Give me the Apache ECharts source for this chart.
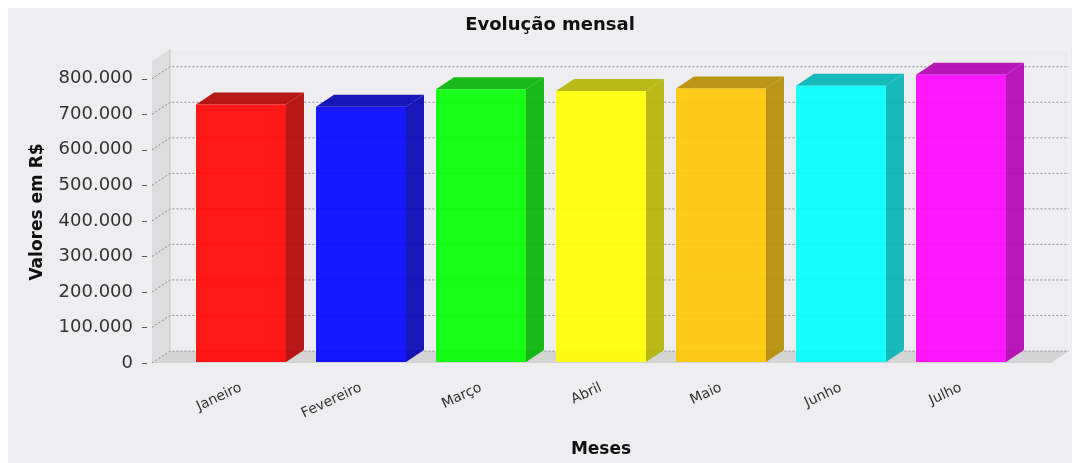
<!DOCTYPE html>
<html><head><meta charset="utf-8">
<script src="https://cdn.jsdelivr.net/npm/echarts@6/dist/echarts.min.js"></script>
<style>html,body{margin:0;padding:0;background:#ffffff}#c{width:1072px;height:463px}</style>
</head><body><div id="c"></div>
<script>
// ---- data ----
const categories = ['Janeiro', 'Fevereiro', 'Março', 'Abril', 'Maio', 'Junho', 'Julho'];
const values = [727000, 721000, 770000, 765000, 772000, 780000, 811000];
const barColors = ['#ff0000', '#0000ff', '#00ff00', '#ffff00', '#ffc800', '#00ffff', '#ff00ff'];
const yTicks = [0, 100000, 200000, 300000, 400000, 500000, 600000, 700000, 800000];
const yMax = 850000;
const titleText = 'Evolução mensal';
const xName = 'Meses';
const yName = 'Valores em R$';

// ---- layout ----
const FONT = 'DejaVu Sans';
const PL = 152, PT = 61, PR = 1051, PB = 363;   // front data area
const DX = 18, DY = 12;                          // 3D depth offset
const BAR_L = 181, BAR_R = 1021;                 // category span

function darker(hex) {
  const n = parseInt(hex.slice(1), 16);
  const r = Math.floor(((n >> 16) & 255) * 0.7), g = Math.floor(((n >> 8) & 255) * 0.7), b = Math.floor((n & 255) * 0.7);
  return 'rgb(' + r + ',' + g + ',' + b + ')';
}
function fmt(v) {
  return String(Math.round(v)).replace(/\B(?=(\d{3})+(?!\d))/g, '.');
}

const chart = echarts.init(document.getElementById('c'), null, { renderer: 'canvas' });

const option = {
  backgroundColor: 'transparent',
  animation: false,
  graphic: [{
    type: 'rect', silent: true, z: -10,
    shape: { x: 8, y: 8, width: 1072 - 8, height: 463 - 8 },
    style: { fill: '#eeeef0' }
  }],
  title: {
    text: titleText, left: 545, top: 11, textAlign: 'center',
    textStyle: { fontFamily: FONT, fontSize: 18, fontWeight: 'bold', color: '#111' }
  },
  grid: [
    { left: PL, top: PT, width: PR - PL, height: PB - PT },
    { left: BAR_L, top: PT, width: BAR_R - BAR_L, height: PB - PT }
  ],
  xAxis: [
    { gridIndex: 0, type: 'value', min: 0, max: 1, show: false },
    {
      gridIndex: 1, type: 'category', data: categories,
      axisLine: { show: false }, axisTick: { show: false }, splitLine: { show: false },
      axisLabel: { rotate: 25, margin: 25, fontFamily: FONT, fontSize: 14, color: '#333' },
      name: xName, nameLocation: 'middle', nameGap: 79,
      nameTextStyle: { fontFamily: FONT, fontSize: 17, fontWeight: 'bold', color: '#111' }
    }
  ],
  yAxis: [
    {
      gridIndex: 0, type: 'value', min: 0, max: yMax, offset: 6,
      axisLine: { show: false },
      axisTick: { show: false },
      splitLine: { show: false },
      axisLabel: {
        customValues: yTicks, margin: 13, fontFamily: FONT, fontSize: 18, color: '#333',
        formatter: fmt
      },
      name: yName, nameLocation: 'middle', nameGap: 100, nameRotate: 90,
      nameTextStyle: { fontFamily: FONT, fontSize: 17, fontWeight: 'bold', color: '#111' }
    },
    { gridIndex: 1, type: 'value', min: 0, max: yMax, show: false }
  ],
  series: [
    {
      // walls and floor
      type: 'custom', xAxisIndex: 0, yAxisIndex: 0, z: 1, silent: true,
      data: [[0, 0]],
      renderItem: function (params, api) {
        const p0 = api.coord([0, 0]);
        const p1 = api.coord([1, yMax]);
        return {
          type: 'group', children: [
            { type: 'rect', shape: { x: p0[0] + DX, y: p1[1] - DY, width: p1[0] - p0[0], height: p0[1] - p1[1] },
              style: { fill: '#eeeef0', stroke: '#f6f6f7', lineWidth: 1 } },
            { type: 'polygon', shape: { points: [[p0[0], p1[1]], [p0[0] + DX, p1[1] - DY], [p0[0] + DX, p0[1] - DY], [p0[0], p0[1]]] },
              style: { fill: '#dddddd' } },
            { type: 'polygon', shape: { points: [[p0[0], p0[1]], [p0[0] + DX, p0[1] - DY], [p1[0] + DX, p0[1] - DY], [p1[0], p0[1]]] },
              style: { fill: '#d4d4d4' } },
            { type: 'line', shape: { x1: p0[0] + DX, y1: p1[1] - DY, x2: p0[0] + DX, y2: p0[1] - DY },
              style: { stroke: '#c4c4c4', lineWidth: 1 } }
          ]
        };
      }
    },
    {
      // grid lines on back wall + axis ticks
      type: 'custom', xAxisIndex: 0, yAxisIndex: 0, z: 2, silent: true,
      data: yTicks.map(function (v) { return [0, v]; }),
      renderItem: function (params, api) {
        const v = api.value(1);
        const a = api.coord([0, v]);
        const b = api.coord([1, v]);
        return {
          type: 'group', children: [
            { type: 'polyline',
              shape: { points: [[a[0], a[1]], [a[0] + DX, a[1] - DY], [b[0] + DX, b[1] - DY]] },
              style: { stroke: '#7a7a7a', lineWidth: 0.8, lineDash: [2, 2], fill: null } },
            { type: 'line',
              shape: { x1: a[0] - 10, y1: Math.round(a[1]) + 0.5, x2: a[0] - 5, y2: Math.round(a[1]) + 0.5 },
              style: { stroke: '#555', lineWidth: 1 } }
          ]
        };
      }
    },
    {
      // 3D bars
      type: 'custom', xAxisIndex: 1, yAxisIndex: 1, z: 3,
      data: values.map(function (v, i) { return [i, v]; }),
      renderItem: function (params, api) {
        const i = api.value(0);
        const base = api.coord([i, 0]);
        const top = api.coord([i, api.value(1)]);
        const bw = api.size([1, 0])[0] * 0.75;
        const x0 = base[0] - bw / 2, x1 = base[0] + bw / 2;
        const ty = top[1], by = base[1];
        const c = barColors[i % barColors.length];
        const d = darker(c);
        return {
          type: 'group', children: [
            { type: 'polygon', shape: { points: [[x1, ty], [x1 + DX, ty - DY], [x1 + DX, by - DY], [x1, by]] },
              style: { fill: d, opacity: 0.9 } },
            { type: 'polygon', shape: { points: [[x0, ty], [x0 + DX, ty - DY], [x1 + DX, ty - DY], [x1, ty]] },
              style: { fill: d, opacity: 0.9 } },
            { type: 'rect', shape: { x: x0, y: ty, width: bw, height: by - ty },
              style: { fill: c, opacity: 0.9 } }
          ]
        };
      }
    }
  ]
};
chart.setOption(option);
</script>
</body></html>
